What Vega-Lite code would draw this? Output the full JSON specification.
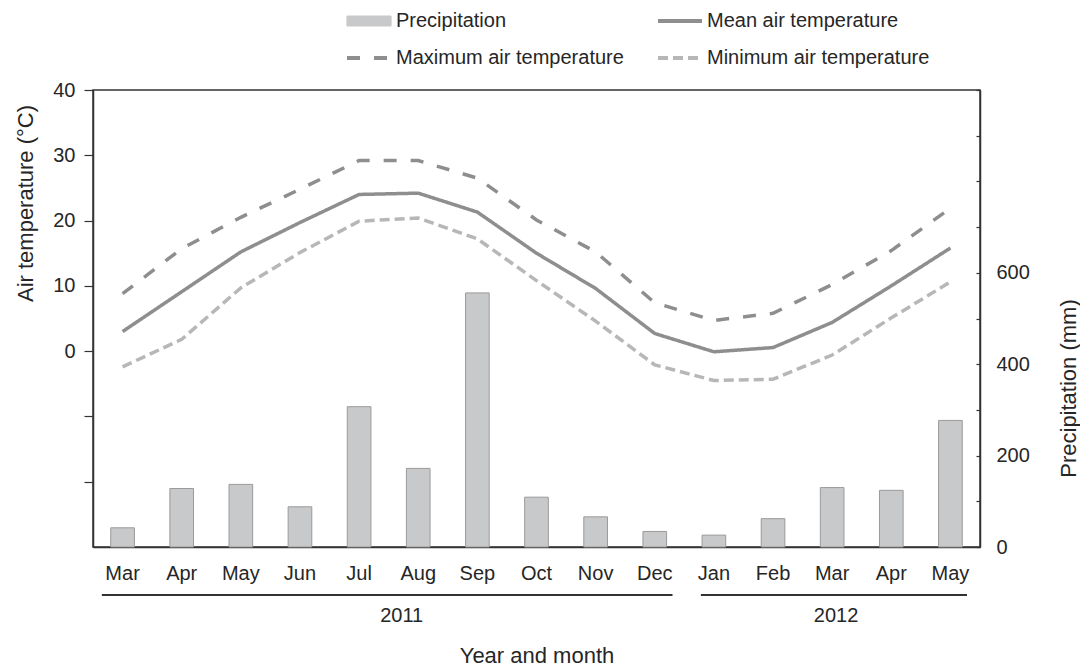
{
  "$schema": "https://vega.github.io/schema/vega-lite/v6.json",
  "background": "white",
  "padding": {"left": 13, "top": 11, "right": 0, "bottom": 0},
  "spacing": 10,
  "resolve": {"scale": {"x": "independent"}},
  "config": {
    "font": "Liberation Sans",
    "view": {"stroke": "#333333", "strokeWidth": 1.5},
    "axis": {
      "labelFont": "Liberation Sans", "labelFontSize": 20, "labelColor": "#262626",
      "titleFont": "Liberation Sans", "titleFontSize": 22, "titleFontWeight": "normal", "titleColor": "#262626",
      "domainColor": "#333333", "domainWidth": 1.5, "tickColor": "#333333", "tickWidth": 1.2, "grid": false
    },
    "text": {"font": "Liberation Sans"}
  },
  "datasets": {
    "monthly": [
      {"ym": "Mar 2011", "precip": 42, "mean": 3.0, "max": 8.8, "min": -2.4},
      {"ym": "Apr 2011", "precip": 128, "mean": 9.1, "max": 15.7, "min": 1.8},
      {"ym": "May 2011", "precip": 137, "mean": 15.2, "max": 20.5, "min": 9.7},
      {"ym": "Jun 2011", "precip": 88, "mean": 19.7, "max": 24.8, "min": 15.1},
      {"ym": "Jul 2011", "precip": 307, "mean": 24.0, "max": 29.2, "min": 19.9},
      {"ym": "Aug 2011", "precip": 172, "mean": 24.2, "max": 29.2, "min": 20.4},
      {"ym": "Sep 2011", "precip": 556, "mean": 21.3, "max": 26.5, "min": 17.2},
      {"ym": "Oct 2011", "precip": 109, "mean": 15.0, "max": 20.1, "min": 10.8},
      {"ym": "Nov 2011", "precip": 66, "mean": 9.6, "max": 15.2, "min": 4.6},
      {"ym": "Dec 2011", "precip": 34, "mean": 2.7, "max": 7.4, "min": -2.1},
      {"ym": "Jan 2012", "precip": 26, "mean": -0.1, "max": 4.7, "min": -4.5},
      {"ym": "Feb 2012", "precip": 62, "mean": 0.55, "max": 5.8, "min": -4.3},
      {"ym": "Mar 2012", "precip": 130, "mean": 4.4, "max": 10.2, "min": -0.6},
      {"ym": "Apr 2012", "precip": 124, "mean": 10.0, "max": 15.4, "min": 5.1},
      {"ym": "May 2012", "precip": 277, "mean": 15.8, "max": 21.9, "min": 10.6}
    ],
    "years": [
      {"year": "2011", "start": "Mar 2011", "end": "Dec 2011", "anchor": "Aug 2011"},
      {"year": "2012", "start": "Jan 2012", "end": "May 2012", "anchor": "Mar 2012"}
    ]
  },
  "vconcat": [
    {
      "width": 887,
      "height": 457,
      "data": {"name": "monthly"},
      "encoding": {
        "x": {
          "field": "ym", "type": "nominal", "sort": null,
          "scale": {
            "domain": ["Mar 2011","Apr 2011","May 2011","Jun 2011","Jul 2011","Aug 2011","Sep 2011","Oct 2011","Nov 2011","Dec 2011","Jan 2012","Feb 2012","Mar 2012","Apr 2012","May 2012"],
            "paddingInner": 0.6, "paddingOuter": 0.3
          },
          "axis": {"title": null, "labelAngle": 0, "ticks": false, "labelPadding": 16, "labelExpr": "split(datum.label, ' ')[0]"}
        }
      },
      "layer": [
        {
          "mark": {"type": "bar", "stroke": "#9a9a9a", "strokeWidth": 1},
          "encoding": {
            "y": {
              "field": "precip", "type": "quantitative",
              "scale": {"domain": [0, 1000], "nice": false},
              "axis": {
                "orient": "right", "title": "Precipitation (mm)",
                "values": [0,100,200,300,400,500,600,700,800,900,1000],
                "labelExpr": "datum.value <= 600 && datum.value % 200 === 0 ? datum.label : ''",
                "tickSize": -4, "labelPadding": 20, "titleAngle": 270,
                "titleX": 88, "titleY": 298, "titleBaseline": "middle", "titleAlign": "center"
              }
            },
            "color": {
              "datum": "precip", "type": "nominal",
              "scale": {"domain": ["precip", "mean", "max", "min"], "range": ["#c8c9cb", "#8e8e8e", "#8e8e8e", "#b7b7b7"]}
            }
          }
        },
        {
          "transform": [{"fold": ["mean", "max", "min"], "as": ["key", "temp"]}],
          "mark": {"type": "line", "strokeWidth": 3.5, "strokeCap": "butt"},
          "encoding": {
            "y": {
              "field": "temp", "type": "quantitative",
              "scale": {"domain": [-30, 40], "nice": false},
              "axis": {
                "orient": "left", "title": "Air temperature (°C)",
                "values": [-20,-10,0,10,20,30,40],
                "labelExpr": "datum.value >= 0 ? datum.label : ''",
                "tickSize": 9, "labelPadding": 9,
                "titleX": -68, "titleY": 113, "titleBaseline": "middle", "titleAlign": "center"
              }
            },
            "color": {
              "field": "key", "type": "nominal",
              "scale": {"domain": ["precip", "mean", "max", "min"], "range": ["#c8c9cb", "#8e8e8e", "#8e8e8e", "#b7b7b7"]},
              "legend": {
                "title": null, "orient": "none", "legendX": 266, "legendY": -79,
                "direction": "horizontal",
                "columns": 2, "columnPadding": 26, "rowPadding": 17,
                "symbolSize": 400, "labelOffset": 17, "labelLimit": 400,
                "labelFont": "Liberation Sans", "labelFontSize": 20, "labelColor": "#262626",
                "labelExpr": "datum.value === 'precip' ? 'Precipitation' : datum.value === 'mean' ? 'Mean air temperature' : datum.value === 'max' ? 'Maximum air temperature' : 'Minimum air temperature'",
                "encode": {
                  "symbols": {
                    "update": {
                      "shape": {"signal": "datum.value === 'precip' ? 'M-2.2,-0.5H2.2V0.5H-2.2Z' : 'M-2.2,0H2.2'"},
                      "fill": {"signal": "datum.value === 'precip' ? '#c8c9cb' : 'transparent'"},
                      "stroke": {"signal": "datum.value === 'precip' ? '#8f8f8f' : datum.value === 'min' ? '#b7b7b7' : '#8e8e8e'"},
                      "strokeWidth": {"signal": "datum.value === 'precip' ? 1.2 : 4"},
                      "strokeDash": {"signal": "datum.value === 'max' ? [13, 14] : datum.value === 'min' ? [10, 5] : [1, 0]"},
                      "opacity": {"value": 1}
                    }
                  }
                }
              }
            },
            "strokeDash": {
              "field": "key", "type": "nominal",
              "scale": {"domain": ["mean", "max", "min"], "range": [[1, 0], [13, 14], [10, 5]]},
              "legend": null
            }
          }
        }
      ],
      "resolve": {"scale": {"y": "independent"}, "axis": {"y": "independent"}}
    },
    {
      "width": 887,
      "height": 21,
      "view": {"stroke": null},
      "data": {"name": "years"},
      "encoding": {
        "x": {
          "field": "start", "type": "nominal",
          "scale": {
            "domain": ["Mar 2011","Apr 2011","May 2011","Jun 2011","Jul 2011","Aug 2011","Sep 2011","Oct 2011","Nov 2011","Dec 2011","Jan 2012","Feb 2012","Mar 2012","Apr 2012","May 2012"],
            "paddingInner": 0, "paddingOuter": 0
          },
          "axis": {"title": "Year and month", "labelExpr": "''", "ticks": false, "domain": false, "labelPadding": 0, "titlePadding": 29}
        }
      },
      "layer": [
        {
          "transform": [{"filter": "datum.year === '2011'"}],
          "mark": {"type": "rule", "color": "#333333", "strokeWidth": 2},
          "encoding": {
            "x": {"field": "start", "type": "nominal", "bandPosition": 0.15},
            "x2": {"field": "end", "bandPosition": 0.8},
            "y": {"datum": "line", "type": "nominal", "scale": {"type": "point", "domain": ["line", "label"], "padding": 0}, "axis": null}
          }
        },
        {
          "transform": [{"filter": "datum.year === '2012'"}],
          "mark": {"type": "rule", "color": "#333333", "strokeWidth": 2},
          "encoding": {
            "x": {"field": "start", "type": "nominal", "bandPosition": 0.28},
            "x2": {"field": "end", "bandPosition": 0.78},
            "y": {"datum": "line", "type": "nominal"}
          }
        },
        {
          "transform": [{"filter": "datum.year === '2011'"}],
          "mark": {"type": "text", "fontSize": 20, "color": "#262626", "baseline": "middle", "align": "center"},
          "encoding": {
            "x": {"field": "anchor", "type": "nominal", "bandPosition": 0.22},
            "y": {"datum": "label", "type": "nominal"},
            "text": {"field": "year"}
          }
        },
        {
          "transform": [{"filter": "datum.year === '2012'"}],
          "mark": {"type": "text", "fontSize": 20, "color": "#262626", "baseline": "middle", "align": "center"},
          "encoding": {
            "x": {"field": "anchor", "type": "nominal", "bandPosition": 0.565},
            "y": {"datum": "label", "type": "nominal"},
            "text": {"field": "year"}
          }
        }
      ]
    }
  ]
}
